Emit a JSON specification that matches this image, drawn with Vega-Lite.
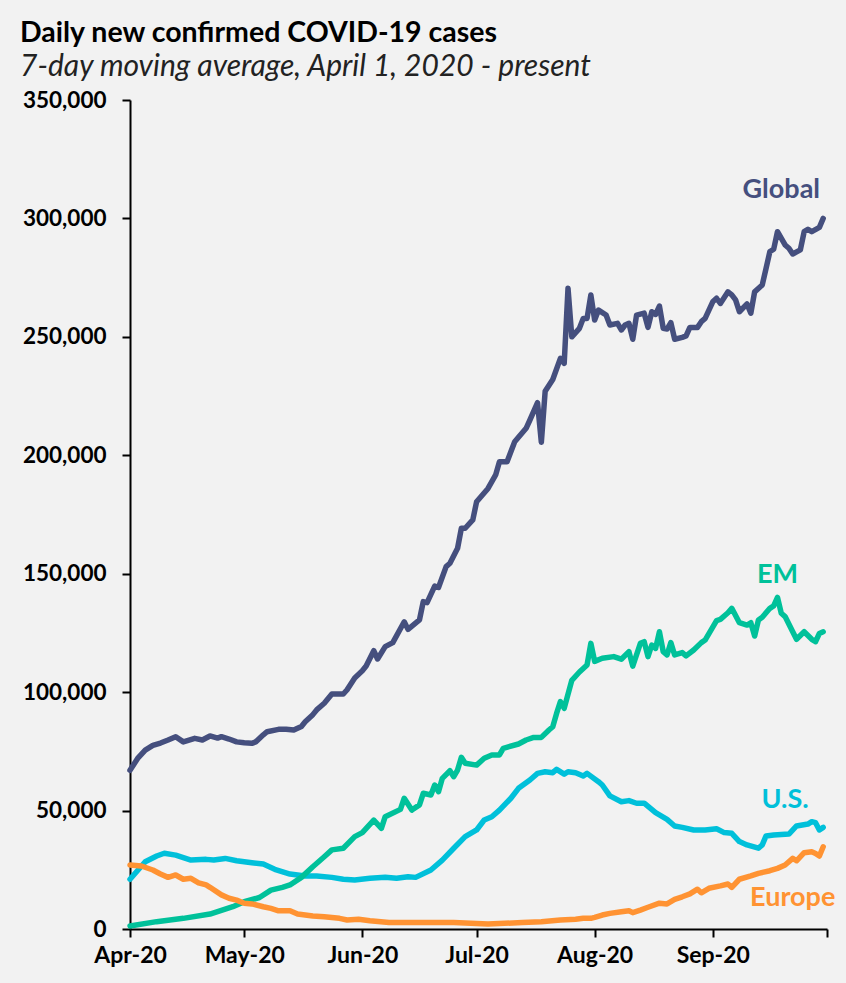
{
  "$schema": "https://vega.github.io/schema/vega-lite/v6.json",
  "autosize": {"type": "none"},
  "width": 697,
  "height": 829,
  "padding": {"left": 130, "top": 100, "right": 19, "bottom": 54},
  "background": "#f2f2f2",
  "config": {"view": {"stroke": null}, "font": "Lato"},
  "title": {
    "text": "Daily new confirmed COVID-19 cases",
    "subtitle": "7-day moving average, April 1, 2020 - present",
    "anchor": "start",
    "frame": "group",
    "dx": -110,
    "offset": 7,
    "font": "Lato",
    "fontSize": 28.5,
    "fontWeight": "bold",
    "color": "#000000",
    "subtitleFont": "Lato",
    "subtitleFontSize": 30,
    "subtitleFontStyle": "italic",
    "subtitleColor": "#222222",
    "subtitlePadding": 5
  },
  "datasets": {
    "series": [
      {"d":"2020/04/01","s":"U.S.","v":21000},
      {"d":"2020/04/05","s":"U.S.","v":28400},
      {"d":"2020/04/08","s":"U.S.","v":30800},
      {"d":"2020/04/10","s":"U.S.","v":32000},
      {"d":"2020/04/13","s":"U.S.","v":31200},
      {"d":"2020/04/17","s":"U.S.","v":29100},
      {"d":"2020/04/21","s":"U.S.","v":29400},
      {"d":"2020/04/23","s":"U.S.","v":29100},
      {"d":"2020/04/26","s":"U.S.","v":29800},
      {"d":"2020/04/29","s":"U.S.","v":28800},
      {"d":"2020/05/03","s":"U.S.","v":28000},
      {"d":"2020/05/06","s":"U.S.","v":27400},
      {"d":"2020/05/09","s":"U.S.","v":25200},
      {"d":"2020/05/13","s":"U.S.","v":23200},
      {"d":"2020/05/17","s":"U.S.","v":22400},
      {"d":"2020/05/20","s":"U.S.","v":22400},
      {"d":"2020/05/24","s":"U.S.","v":21800},
      {"d":"2020/05/27","s":"U.S.","v":21000},
      {"d":"2020/05/30","s":"U.S.","v":20700},
      {"d":"2020/06/03","s":"U.S.","v":21400},
      {"d":"2020/06/07","s":"U.S.","v":21800},
      {"d":"2020/06/10","s":"U.S.","v":21400},
      {"d":"2020/06/13","s":"U.S.","v":22100},
      {"d":"2020/06/15","s":"U.S.","v":21800},
      {"d":"2020/06/19","s":"U.S.","v":24900},
      {"d":"2020/06/22","s":"U.S.","v":29100},
      {"d":"2020/06/25","s":"U.S.","v":34100},
      {"d":"2020/06/28","s":"U.S.","v":39000},
      {"d":"2020/07/01","s":"U.S.","v":41800},
      {"d":"2020/07/03","s":"U.S.","v":46000},
      {"d":"2020/07/05","s":"U.S.","v":47400},
      {"d":"2020/07/07","s":"U.S.","v":50200},
      {"d":"2020/07/10","s":"U.S.","v":55200},
      {"d":"2020/07/12","s":"U.S.","v":59400},
      {"d":"2020/07/15","s":"U.S.","v":62900},
      {"d":"2020/07/17","s":"U.S.","v":65700},
      {"d":"2020/07/19","s":"U.S.","v":66400},
      {"d":"2020/07/21","s":"U.S.","v":66000},
      {"d":"2020/07/22","s":"U.S.","v":67400},
      {"d":"2020/07/24","s":"U.S.","v":65400},
      {"d":"2020/07/25","s":"U.S.","v":66400},
      {"d":"2020/07/27","s":"U.S.","v":66000},
      {"d":"2020/07/29","s":"U.S.","v":64600},
      {"d":"2020/07/30","s":"U.S.","v":65700},
      {"d":"2020/08/02","s":"U.S.","v":62200},
      {"d":"2020/08/03","s":"U.S.","v":60800},
      {"d":"2020/08/05","s":"U.S.","v":56200},
      {"d":"2020/08/08","s":"U.S.","v":53700},
      {"d":"2020/08/10","s":"U.S.","v":54200},
      {"d":"2020/08/12","s":"U.S.","v":53100},
      {"d":"2020/08/14","s":"U.S.","v":53100},
      {"d":"2020/08/17","s":"U.S.","v":49100},
      {"d":"2020/08/20","s":"U.S.","v":46300},
      {"d":"2020/08/22","s":"U.S.","v":43500},
      {"d":"2020/08/24","s":"U.S.","v":42900},
      {"d":"2020/08/27","s":"U.S.","v":41800},
      {"d":"2020/08/30","s":"U.S.","v":41800},
      {"d":"2020/09/02","s":"U.S.","v":42300},
      {"d":"2020/09/04","s":"U.S.","v":40700},
      {"d":"2020/09/06","s":"U.S.","v":40400},
      {"d":"2020/09/08","s":"U.S.","v":36900},
      {"d":"2020/09/10","s":"U.S.","v":35500},
      {"d":"2020/09/13","s":"U.S.","v":34100},
      {"d":"2020/09/14","s":"U.S.","v":35500},
      {"d":"2020/09/15","s":"U.S.","v":39300},
      {"d":"2020/09/17","s":"U.S.","v":39700},
      {"d":"2020/09/21","s":"U.S.","v":40100},
      {"d":"2020/09/23","s":"U.S.","v":43500},
      {"d":"2020/09/26","s":"U.S.","v":44300},
      {"d":"2020/09/27","s":"U.S.","v":45300},
      {"d":"2020/09/28","s":"U.S.","v":44900},
      {"d":"2020/09/29","s":"U.S.","v":41800},
      {"d":"2020/09/30","s":"U.S.","v":42900},

      {"d":"2020/04/01","s":"EM","v":1300},
      {"d":"2020/04/08","s":"EM","v":3100},
      {"d":"2020/04/15","s":"EM","v":4500},
      {"d":"2020/04/22","s":"EM","v":6300},
      {"d":"2020/04/28","s":"EM","v":9400},
      {"d":"2020/05/01","s":"EM","v":11500},
      {"d":"2020/05/05","s":"EM","v":13300},
      {"d":"2020/05/08","s":"EM","v":16400},
      {"d":"2020/05/11","s":"EM","v":17600},
      {"d":"2020/05/13","s":"EM","v":18600},
      {"d":"2020/05/16","s":"EM","v":21800},
      {"d":"2020/05/19","s":"EM","v":26300},
      {"d":"2020/05/22","s":"EM","v":30500},
      {"d":"2020/05/24","s":"EM","v":33400},
      {"d":"2020/05/27","s":"EM","v":34100},
      {"d":"2020/05/30","s":"EM","v":39000},
      {"d":"2020/06/01","s":"EM","v":40700},
      {"d":"2020/06/04","s":"EM","v":46000},
      {"d":"2020/06/06","s":"EM","v":42500},
      {"d":"2020/06/07","s":"EM","v":47400},
      {"d":"2020/06/11","s":"EM","v":50500},
      {"d":"2020/06/12","s":"EM","v":55200},
      {"d":"2020/06/14","s":"EM","v":50200},
      {"d":"2020/06/16","s":"EM","v":52400},
      {"d":"2020/06/17","s":"EM","v":57300},
      {"d":"2020/06/19","s":"EM","v":56600},
      {"d":"2020/06/20","s":"EM","v":60800},
      {"d":"2020/06/21","s":"EM","v":58000},
      {"d":"2020/06/22","s":"EM","v":63600},
      {"d":"2020/06/24","s":"EM","v":66800},
      {"d":"2020/06/25","s":"EM","v":64300},
      {"d":"2020/06/26","s":"EM","v":67100},
      {"d":"2020/06/27","s":"EM","v":72500},
      {"d":"2020/06/28","s":"EM","v":70000},
      {"d":"2020/07/01","s":"EM","v":69200},
      {"d":"2020/07/03","s":"EM","v":72100},
      {"d":"2020/07/05","s":"EM","v":73500},
      {"d":"2020/07/07","s":"EM","v":73500},
      {"d":"2020/07/08","s":"EM","v":76300},
      {"d":"2020/07/12","s":"EM","v":78100},
      {"d":"2020/07/14","s":"EM","v":79800},
      {"d":"2020/07/16","s":"EM","v":80900},
      {"d":"2020/07/18","s":"EM","v":80900},
      {"d":"2020/07/20","s":"EM","v":84000},
      {"d":"2020/07/21","s":"EM","v":85400},
      {"d":"2020/07/22","s":"EM","v":91000},
      {"d":"2020/07/23","s":"EM","v":96000},
      {"d":"2020/07/24","s":"EM","v":93200},
      {"d":"2020/07/26","s":"EM","v":105000},
      {"d":"2020/07/28","s":"EM","v":108500},
      {"d":"2020/07/30","s":"EM","v":111500},
      {"d":"2020/07/31","s":"EM","v":120600},
      {"d":"2020/08/01","s":"EM","v":113000},
      {"d":"2020/08/03","s":"EM","v":114300},
      {"d":"2020/08/06","s":"EM","v":115000},
      {"d":"2020/08/08","s":"EM","v":113900},
      {"d":"2020/08/10","s":"EM","v":117100},
      {"d":"2020/08/11","s":"EM","v":111000},
      {"d":"2020/08/13","s":"EM","v":120600},
      {"d":"2020/08/14","s":"EM","v":121300},
      {"d":"2020/08/15","s":"EM","v":115000},
      {"d":"2020/08/16","s":"EM","v":119900},
      {"d":"2020/08/17","s":"EM","v":118500},
      {"d":"2020/08/18","s":"EM","v":125500},
      {"d":"2020/08/19","s":"EM","v":117100},
      {"d":"2020/08/20","s":"EM","v":115700},
      {"d":"2020/08/21","s":"EM","v":120900},
      {"d":"2020/08/22","s":"EM","v":115700},
      {"d":"2020/08/24","s":"EM","v":116700},
      {"d":"2020/08/25","s":"EM","v":115300},
      {"d":"2020/08/27","s":"EM","v":117800},
      {"d":"2020/08/29","s":"EM","v":120900},
      {"d":"2020/08/30","s":"EM","v":122000},
      {"d":"2020/09/02","s":"EM","v":130200},
      {"d":"2020/09/03","s":"EM","v":130700},
      {"d":"2020/09/05","s":"EM","v":133500},
      {"d":"2020/09/06","s":"EM","v":135400},
      {"d":"2020/09/08","s":"EM","v":129300},
      {"d":"2020/09/10","s":"EM","v":128300},
      {"d":"2020/09/11","s":"EM","v":129300},
      {"d":"2020/09/12","s":"EM","v":123700},
      {"d":"2020/09/13","s":"EM","v":130500},
      {"d":"2020/09/14","s":"EM","v":131600},
      {"d":"2020/09/16","s":"EM","v":135400},
      {"d":"2020/09/17","s":"EM","v":136400},
      {"d":"2020/09/18","s":"EM","v":140000},
      {"d":"2020/09/19","s":"EM","v":133300},
      {"d":"2020/09/20","s":"EM","v":131900},
      {"d":"2020/09/22","s":"EM","v":125500},
      {"d":"2020/09/23","s":"EM","v":122300},
      {"d":"2020/09/25","s":"EM","v":125500},
      {"d":"2020/09/27","s":"EM","v":122300},
      {"d":"2020/09/28","s":"EM","v":121300},
      {"d":"2020/09/29","s":"EM","v":124800},
      {"d":"2020/09/30","s":"EM","v":125500},

      {"d":"2020/04/01","s":"Europe","v":27000},
      {"d":"2020/04/04","s":"Europe","v":26600},
      {"d":"2020/04/07","s":"Europe","v":24900},
      {"d":"2020/04/09","s":"Europe","v":23200},
      {"d":"2020/04/11","s":"Europe","v":21800},
      {"d":"2020/04/13","s":"Europe","v":22800},
      {"d":"2020/04/15","s":"Europe","v":21000},
      {"d":"2020/04/17","s":"Europe","v":21400},
      {"d":"2020/04/19","s":"Europe","v":19500},
      {"d":"2020/04/21","s":"Europe","v":18600},
      {"d":"2020/04/22","s":"Europe","v":17600},
      {"d":"2020/04/25","s":"Europe","v":14400},
      {"d":"2020/04/27","s":"Europe","v":13000},
      {"d":"2020/04/29","s":"Europe","v":12200},
      {"d":"2020/05/01","s":"Europe","v":10900},
      {"d":"2020/05/03","s":"Europe","v":10600},
      {"d":"2020/05/06","s":"Europe","v":9400},
      {"d":"2020/05/08","s":"Europe","v":8700},
      {"d":"2020/05/10","s":"Europe","v":7700},
      {"d":"2020/05/13","s":"Europe","v":7700},
      {"d":"2020/05/15","s":"Europe","v":6300},
      {"d":"2020/05/19","s":"Europe","v":5500},
      {"d":"2020/05/22","s":"Europe","v":5200},
      {"d":"2020/05/26","s":"Europe","v":4500},
      {"d":"2020/05/28","s":"Europe","v":3800},
      {"d":"2020/05/31","s":"Europe","v":4100},
      {"d":"2020/06/03","s":"Europe","v":3500},
      {"d":"2020/06/08","s":"Europe","v":2700},
      {"d":"2020/06/17","s":"Europe","v":2700},
      {"d":"2020/06/25","s":"Europe","v":2700},
      {"d":"2020/07/04","s":"Europe","v":2100},
      {"d":"2020/07/13","s":"Europe","v":2700},
      {"d":"2020/07/18","s":"Europe","v":3100},
      {"d":"2020/07/23","s":"Europe","v":3800},
      {"d":"2020/07/27","s":"Europe","v":4100},
      {"d":"2020/07/29","s":"Europe","v":4500},
      {"d":"2020/07/31","s":"Europe","v":4500},
      {"d":"2020/08/01","s":"Europe","v":4900},
      {"d":"2020/08/03","s":"Europe","v":5900},
      {"d":"2020/08/05","s":"Europe","v":6600},
      {"d":"2020/08/08","s":"Europe","v":7300},
      {"d":"2020/08/10","s":"Europe","v":7700},
      {"d":"2020/08/11","s":"Europe","v":6900},
      {"d":"2020/08/13","s":"Europe","v":8000},
      {"d":"2020/08/15","s":"Europe","v":9200},
      {"d":"2020/08/18","s":"Europe","v":10900},
      {"d":"2020/08/20","s":"Europe","v":10600},
      {"d":"2020/08/22","s":"Europe","v":12500},
      {"d":"2020/08/24","s":"Europe","v":13600},
      {"d":"2020/08/26","s":"Europe","v":14800},
      {"d":"2020/08/28","s":"Europe","v":16800},
      {"d":"2020/08/29","s":"Europe","v":15300},
      {"d":"2020/08/31","s":"Europe","v":17200},
      {"d":"2020/09/03","s":"Europe","v":18200},
      {"d":"2020/09/05","s":"Europe","v":19000},
      {"d":"2020/09/06","s":"Europe","v":17600},
      {"d":"2020/09/08","s":"Europe","v":21000},
      {"d":"2020/09/11","s":"Europe","v":22400},
      {"d":"2020/09/13","s":"Europe","v":23500},
      {"d":"2020/09/16","s":"Europe","v":24600},
      {"d":"2020/09/18","s":"Europe","v":25600},
      {"d":"2020/09/20","s":"Europe","v":27000},
      {"d":"2020/09/22","s":"Europe","v":29800},
      {"d":"2020/09/23","s":"Europe","v":28800},
      {"d":"2020/09/25","s":"Europe","v":32200},
      {"d":"2020/09/27","s":"Europe","v":32600},
      {"d":"2020/09/28","s":"Europe","v":31900},
      {"d":"2020/09/29","s":"Europe","v":30800},
      {"d":"2020/09/30","s":"Europe","v":34700},

      {"d":"2020/04/01","s":"Global","v":67000},
      {"d":"2020/04/03","s":"Global","v":72000},
      {"d":"2020/04/05","s":"Global","v":75500},
      {"d":"2020/04/07","s":"Global","v":77500},
      {"d":"2020/04/09","s":"Global","v":78500},
      {"d":"2020/04/11","s":"Global","v":79800},
      {"d":"2020/04/13","s":"Global","v":81200},
      {"d":"2020/04/15","s":"Global","v":79000},
      {"d":"2020/04/18","s":"Global","v":80500},
      {"d":"2020/04/20","s":"Global","v":79800},
      {"d":"2020/04/22","s":"Global","v":81500},
      {"d":"2020/04/24","s":"Global","v":80600},
      {"d":"2020/04/25","s":"Global","v":81200},
      {"d":"2020/04/27","s":"Global","v":80200},
      {"d":"2020/04/29","s":"Global","v":79000},
      {"d":"2020/05/01","s":"Global","v":78600},
      {"d":"2020/05/03","s":"Global","v":78400},
      {"d":"2020/05/04","s":"Global","v":79000},
      {"d":"2020/05/06","s":"Global","v":82000},
      {"d":"2020/05/07","s":"Global","v":83300},
      {"d":"2020/05/10","s":"Global","v":84300},
      {"d":"2020/05/12","s":"Global","v":84300},
      {"d":"2020/05/14","s":"Global","v":84000},
      {"d":"2020/05/16","s":"Global","v":85500},
      {"d":"2020/05/17","s":"Global","v":87500},
      {"d":"2020/05/19","s":"Global","v":90500},
      {"d":"2020/05/20","s":"Global","v":92500},
      {"d":"2020/05/22","s":"Global","v":95300},
      {"d":"2020/05/24","s":"Global","v":99200},
      {"d":"2020/05/27","s":"Global","v":99200},
      {"d":"2020/05/28","s":"Global","v":101000},
      {"d":"2020/05/30","s":"Global","v":106000},
      {"d":"2020/06/01","s":"Global","v":109000},
      {"d":"2020/06/02","s":"Global","v":111000},
      {"d":"2020/06/04","s":"Global","v":117500},
      {"d":"2020/06/05","s":"Global","v":114000},
      {"d":"2020/06/07","s":"Global","v":119200},
      {"d":"2020/06/09","s":"Global","v":120900},
      {"d":"2020/06/12","s":"Global","v":129700},
      {"d":"2020/06/13","s":"Global","v":126500},
      {"d":"2020/06/16","s":"Global","v":130500},
      {"d":"2020/06/17","s":"Global","v":138200},
      {"d":"2020/06/18","s":"Global","v":137800},
      {"d":"2020/06/20","s":"Global","v":144800},
      {"d":"2020/06/21","s":"Global","v":144200},
      {"d":"2020/06/23","s":"Global","v":153000},
      {"d":"2020/06/24","s":"Global","v":154400},
      {"d":"2020/06/26","s":"Global","v":160700},
      {"d":"2020/06/27","s":"Global","v":169200},
      {"d":"2020/06/28","s":"Global","v":169200},
      {"d":"2020/06/30","s":"Global","v":172700},
      {"d":"2020/07/01","s":"Global","v":180400},
      {"d":"2020/07/04","s":"Global","v":186000},
      {"d":"2020/07/06","s":"Global","v":191700},
      {"d":"2020/07/07","s":"Global","v":197300},
      {"d":"2020/07/09","s":"Global","v":197300},
      {"d":"2020/07/11","s":"Global","v":205700},
      {"d":"2020/07/14","s":"Global","v":211400},
      {"d":"2020/07/15","s":"Global","v":214900},
      {"d":"2020/07/17","s":"Global","v":222200},
      {"d":"2020/07/18","s":"Global","v":205500},
      {"d":"2020/07/19","s":"Global","v":227000},
      {"d":"2020/07/21","s":"Global","v":232000},
      {"d":"2020/07/23","s":"Global","v":240900},
      {"d":"2020/07/24","s":"Global","v":238800},
      {"d":"2020/07/25","s":"Global","v":270500},
      {"d":"2020/07/26","s":"Global","v":250000},
      {"d":"2020/07/28","s":"Global","v":253600},
      {"d":"2020/07/29","s":"Global","v":257800},
      {"d":"2020/07/30","s":"Global","v":257800},
      {"d":"2020/07/31","s":"Global","v":267700},
      {"d":"2020/08/01","s":"Global","v":257100},
      {"d":"2020/08/02","s":"Global","v":261300},
      {"d":"2020/08/04","s":"Global","v":259200},
      {"d":"2020/08/05","s":"Global","v":255000},
      {"d":"2020/08/07","s":"Global","v":255700},
      {"d":"2020/08/08","s":"Global","v":252900},
      {"d":"2020/08/09","s":"Global","v":255000},
      {"d":"2020/08/10","s":"Global","v":255700},
      {"d":"2020/08/11","s":"Global","v":249000},
      {"d":"2020/08/12","s":"Global","v":259200},
      {"d":"2020/08/14","s":"Global","v":260000},
      {"d":"2020/08/15","s":"Global","v":254000},
      {"d":"2020/08/16","s":"Global","v":260600},
      {"d":"2020/08/17","s":"Global","v":259500},
      {"d":"2020/08/18","s":"Global","v":263000},
      {"d":"2020/08/19","s":"Global","v":253600},
      {"d":"2020/08/20","s":"Global","v":253300},
      {"d":"2020/08/21","s":"Global","v":256000},
      {"d":"2020/08/22","s":"Global","v":249000},
      {"d":"2020/08/24","s":"Global","v":249800},
      {"d":"2020/08/25","s":"Global","v":250400},
      {"d":"2020/08/26","s":"Global","v":254000},
      {"d":"2020/08/28","s":"Global","v":254000},
      {"d":"2020/08/29","s":"Global","v":256400},
      {"d":"2020/08/30","s":"Global","v":257800},
      {"d":"2020/09/01","s":"Global","v":264800},
      {"d":"2020/09/02","s":"Global","v":266300},
      {"d":"2020/09/03","s":"Global","v":264100},
      {"d":"2020/09/05","s":"Global","v":269000},
      {"d":"2020/09/06","s":"Global","v":267700},
      {"d":"2020/09/07","s":"Global","v":265600},
      {"d":"2020/09/08","s":"Global","v":260600},
      {"d":"2020/09/10","s":"Global","v":263900},
      {"d":"2020/09/11","s":"Global","v":260000},
      {"d":"2020/09/12","s":"Global","v":269000},
      {"d":"2020/09/14","s":"Global","v":271900},
      {"d":"2020/09/15","s":"Global","v":278900},
      {"d":"2020/09/16","s":"Global","v":286000},
      {"d":"2020/09/17","s":"Global","v":287000},
      {"d":"2020/09/18","s":"Global","v":294400},
      {"d":"2020/09/20","s":"Global","v":288800},
      {"d":"2020/09/21","s":"Global","v":287400},
      {"d":"2020/09/22","s":"Global","v":285000},
      {"d":"2020/09/24","s":"Global","v":286700},
      {"d":"2020/09/25","s":"Global","v":294400},
      {"d":"2020/09/26","s":"Global","v":295400},
      {"d":"2020/09/27","s":"Global","v":294400},
      {"d":"2020/09/29","s":"Global","v":296200},
      {"d":"2020/09/30","s":"Global","v":300000}
    ],
    "labels": [
      {"d":"2020/09/19","s":"Global","v":312000},
      {"d":"2020/09/18","s":"EM","v":149500},
      {"d":"2020/09/20","s":"U.S.","v":54500},
      {"d":"2020/09/22","s":"Europe","v":13100}
    ]
  },
  "encoding": {
    "x": {
      "field": "d",
      "type": "temporal",
      "scale": {"domain": [{"year": 2020, "month": "apr", "date": 1}, {"year": 2020, "month": "oct", "date": 1}]},
      "axis": {
        "title": null,
        "values": [
          {"year": 2020, "month": "apr", "date": 1},
          {"year": 2020, "month": "may", "date": 1},
          {"year": 2020, "month": "jun", "date": 1},
          {"year": 2020, "month": "jul", "date": 1},
          {"year": 2020, "month": "aug", "date": 1},
          {"year": 2020, "month": "sep", "date": 1},
          {"year": 2020, "month": "oct", "date": 1}
        ],
        "labelExpr": "month(datum.value) == 9 ? '' : timeFormat(datum.value, '%b-%y')",
        "grid": false,
        "domainColor": "#000000",
        "domainWidth": 2,
        "tickColor": "#000000",
        "tickWidth": 2,
        "tickSize": 8,
        "labelFont": "Lato",
        "labelFontSize": 23,
        "labelFontWeight": "bold",
        "labelColor": "#000000",
        "labelPadding": 7,
        "labelOverlap": false,
        "labelFlush": false
      }
    },
    "y": {
      "field": "v",
      "type": "quantitative",
      "scale": {"domain": [0, 350000], "nice": false},
      "axis": {
        "title": null,
        "values": [0, 50000, 100000, 150000, 200000, 250000, 300000, 350000],
        "format": ",.0f",
        "grid": false,
        "domainColor": "#000000",
        "domainWidth": 2,
        "tickColor": "#000000",
        "tickWidth": 2,
        "tickSize": 8,
        "labelFont": "Lato",
        "labelFontSize": 22.5,
        "labelFontWeight": "bold",
        "labelColor": "#000000",
        "labelPadding": 16,
        "labelFlush": false,
        "labelOverlap": false
      }
    },
    "color": {
      "field": "s",
      "type": "nominal",
      "scale": {"domain": ["Global", "EM", "U.S.", "Europe"], "range": ["#454f7e", "#00c19a", "#00c0da", "#ff9333"]},
      "legend": null
    }
  },
  "layer": [
    {
      "data": {"name": "series"},
      "mark": {"type": "line", "strokeWidth": 5.5, "strokeCap": "round", "strokeJoin": "round"},
      "encoding": {"detail": {"field": "s"}}
    },
    {
      "data": {"name": "labels"},
      "mark": {"type": "text", "font": "Lato", "fontSize": 27, "fontWeight": "bold", "align": "center", "baseline": "middle"},
      "encoding": {"text": {"field": "s"}}
    }
  ]
}
